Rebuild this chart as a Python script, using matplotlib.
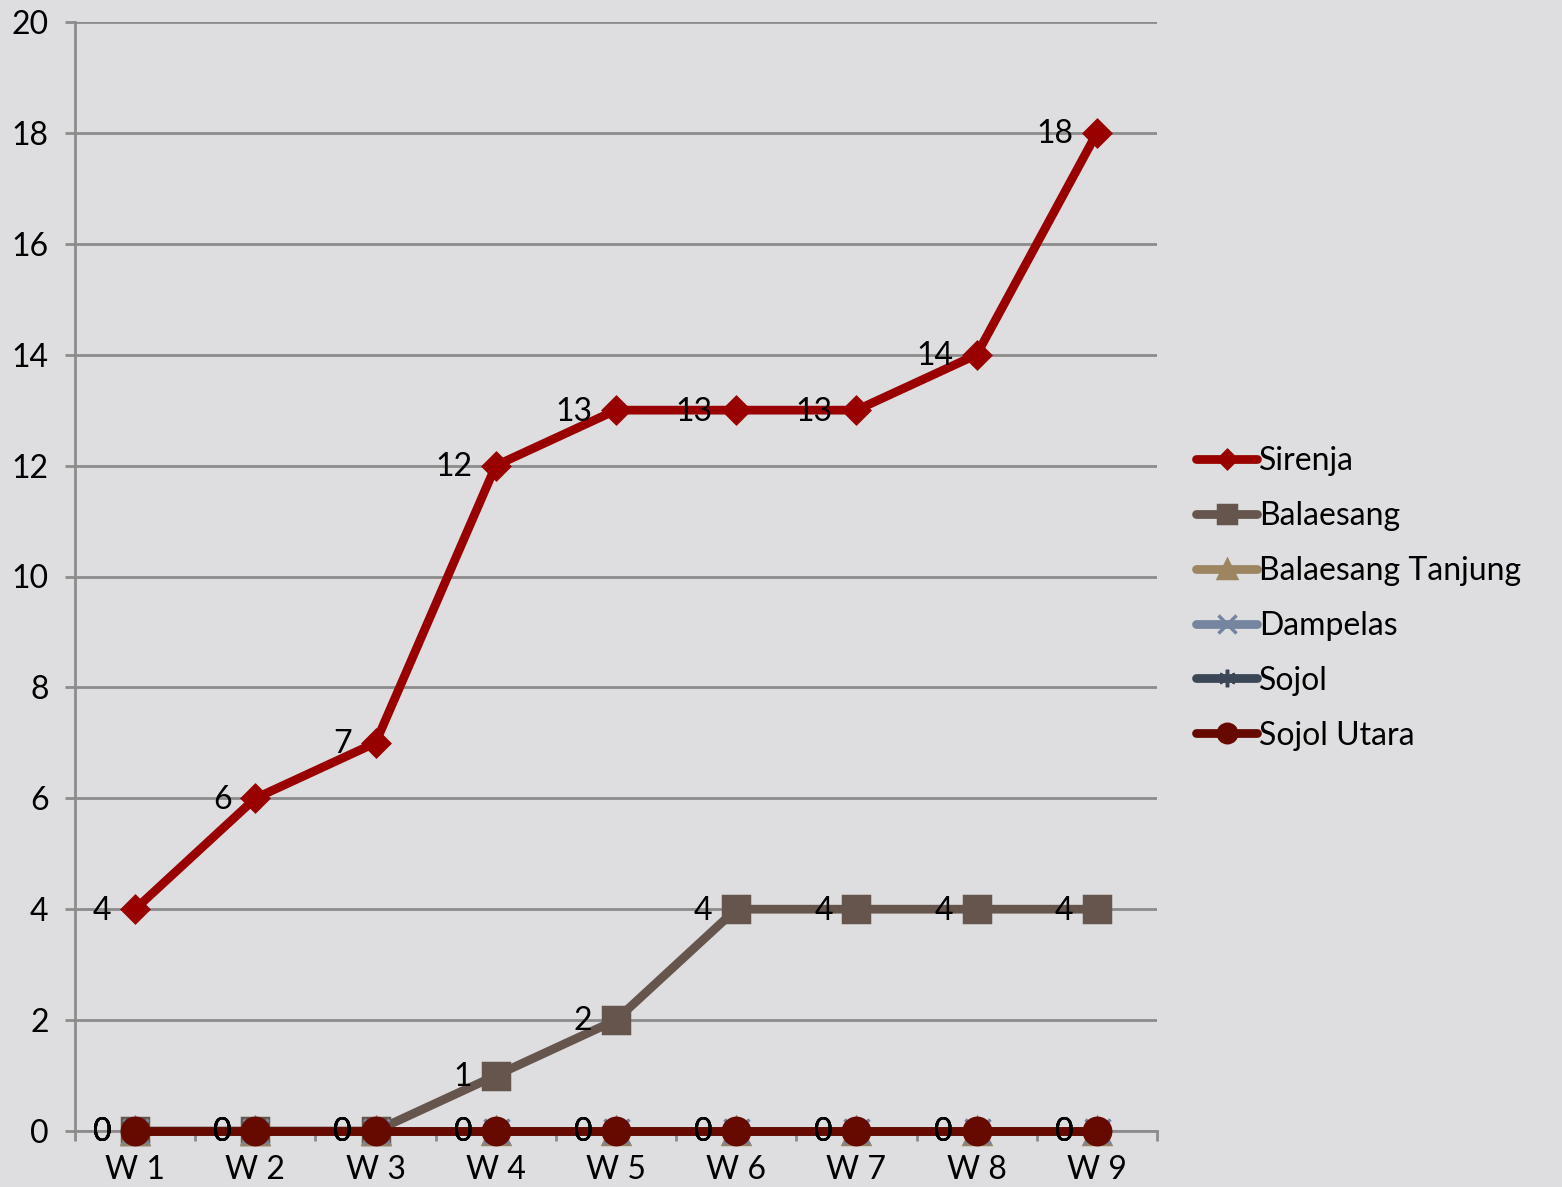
import matplotlib
matplotlib.use('Agg')
import matplotlib.pyplot as plt
import numpy as np
from matplotlib.ticker import FixedLocator


plt.rcParams['font.family'] = ['Lato', 'DejaVu Sans']

weeks = ['W 1', 'W 2', 'W 3', 'W 4', 'W 5', 'W 6', 'W 7', 'W 8', 'W 9']

sirenja = [4, 6, 7, 12, 13, 13, 13, 14, 18]
balaesang = [0, 0, 0, 1, 2, 4, 4, 4, 4]
balaesang_tanjung = [0, 0, 0, 0, 0, 0, 0, 0, 0]
dampelas = [0, 0, 0, 0, 0, 0, 0, 0, 0]
sojol = [0, 0, 0, 0, 0, 0, 0, 0, 0]
sojol_utara = [0, 0, 0, 0, 0, 0, 0, 0, 0]

series = [
    ('Sirenja', sirenja, '#990000', 'D', 13),
    ('Balaesang', balaesang, '#66554c', 's', 19),
    ('Balaesang Tanjung', balaesang_tanjung, '#9c8560', '^', 19),
    ('Dampelas', dampelas, '#7585a0', 'x', 18),
    ('Sojol', sojol, '#3b4656', (6, 2, 0), 18),
    ('Sojol Utara', sojol_utara, '#660a00', 'o', 19),
]

bg = '#dedee0'
grid_c = '#8c8c8c'

fig = plt.figure(figsize=(15.62, 11.87), dpi=100, facecolor=bg)
ax = fig.add_axes([75 / 1562, 1 - 1131 / 1187, (1157 - 75) / 1562, (1131 - 22) / 1187])
ax.set_facecolor(bg)

x = np.arange(1, len(weeks) + 1)

for idx, (name, vals, color, marker, ms) in enumerate(series):
    ax.plot(x, vals, color=color, lw=6.3, marker=marker, markersize=ms,
            markeredgewidth=2.5, markeredgecolor=color, label=name,
            solid_capstyle='round', zorder=3 + idx, clip_on=False)
    for xi, v in zip(x, vals):
        ax.annotate(str(v), (xi, v), xytext=(-17, -1), textcoords='offset points',
                    ha='right', va='center', fontsize=23, color='black',
                    zorder=20, annotation_clip=False)

ax.set_xlim(0.5, len(weeks) + 0.5)
ax.set_ylim(0, 20)
ax.set_yticks(np.arange(0, 21, 2))
ax.set_xticks(x)
ax.set_xticklabels(weeks)
ax.xaxis.set_minor_locator(FixedLocator(np.arange(0.5, len(weeks) + 1, 1)))

ax.tick_params(axis='y', length=7, width=2, color=grid_c, pad=12, labelsize=23)
ax.tick_params(axis='x', which='major', length=0, pad=17, labelsize=23)
ax.tick_params(axis='x', which='minor', length=7, width=2, color=grid_c)

ax.grid(axis='y', color=grid_c, lw=2)
ax.set_axisbelow(True)
for side in ['top', 'right']:
    ax.spines[side].set_visible(False)
for side in ['left', 'bottom']:
    ax.spines[side].set_color(grid_c)
    ax.spines[side].set_linewidth(2)

ax.legend(loc='center left', bbox_to_anchor=(0.766, 0.496), bbox_transform=fig.transFigure,
          frameon=False, fontsize=23, handlelength=1.9, handletextpad=0.05,
          labelspacing=0.78, borderpad=0, borderaxespad=0, markerscale=0.7)

fig.savefig('out.png', dpi=100, facecolor=bg)
